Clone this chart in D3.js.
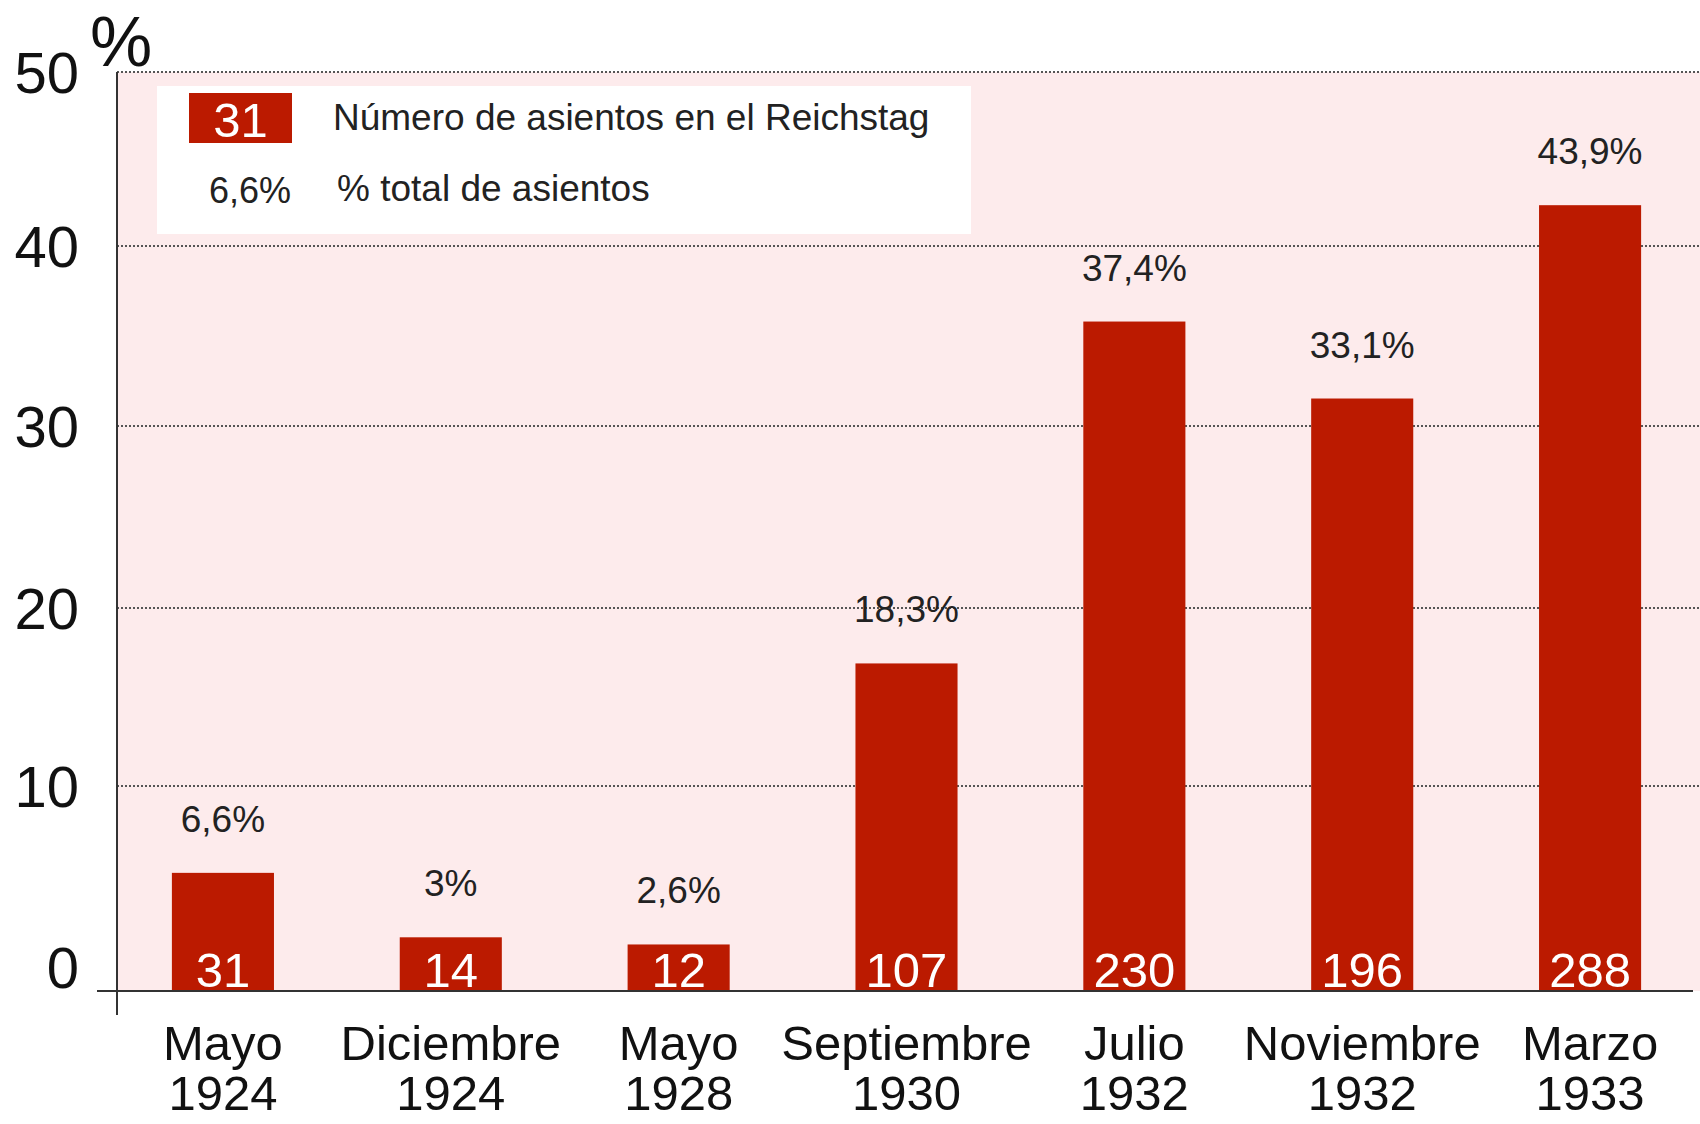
<!DOCTYPE html>
<html>
<head>
<meta charset="utf-8">
<script src="https://cdn.jsdelivr.net/npm/d3@7"></script>
<style>
  body { margin: 0; background: #fff; }
  text { font-family: "Liberation Sans", Arial, sans-serif; }
</style>
</head>
<body>
<div id="chart"></div>
<script>
var months = ["Mayo", "Diciembre", "Mayo", "Septiembre", "Julio", "Noviembre", "Marzo"];
var years = ["1924", "1924", "1928", "1930", "1932", "1932", "1933"];
var seats = [31, 14, 12, 107, 230, 196, 288];
var percent = [6.6, 3, 2.6, 18.3, 37.4, 33.1, 43.9];
var yTicks = [0, 10, 20, 30, 40, 50];

var legendSeats = "Número de asientos en el Reichstag";
var legendPercent = "% total de asientos";

var width = 1700, height = 1124;
var plotLeft = 117, plotRight = 1700, plotTop = 72, baseline = 991;

var keys = months.map(function(m, i) { return m + " " + years[i]; });

var svg = d3.select("#chart").append("svg")
    .attr("width", width)
    .attr("height", height);

var x = d3.scaleBand()
    .domain(keys)
    .range([109, 1704])
    .paddingInner(0.552)
    .paddingOuter(0.276);

// the original axis is not evenly spaced, so the gridlines follow it
var yAxisScale = d3.scaleLinear()
    .domain(yTicks)
    .range([baseline, 786, 608, 426, 246, plotTop]);

// bars are drawn to their own (even) scale, as in the original
var y = d3.scaleLinear()
    .domain([0, 50])
    .range([baseline, 96]);

var es = d3.formatLocale({decimal: ",", thousands: ".", grouping: [3], currency: ["", "€"]});
var fmt = es.format("~g");

// plot background
svg.append("rect")
    .attr("x", plotLeft)
    .attr("y", plotTop)
    .attr("width", plotRight - plotLeft)
    .attr("height", baseline - plotTop)
    .attr("fill", "#fdebec");

// dotted gridlines
svg.selectAll("line.grid")
    .data(yTicks.filter(function(d) { return d > 0; }))
    .enter()
    .append("line")
    .attr("class", "grid")
    .attr("x1", plotLeft)
    .attr("x2", plotRight)
    .attr("y1", function(d) { return yAxisScale(d); })
    .attr("y2", function(d) { return yAxisScale(d); })
    .attr("stroke", "#555")
    .attr("stroke-width", 2)
    .attr("stroke-dasharray", "2,2");

// legend
var legend = svg.append("g");
legend.append("rect")
    .attr("x", 157).attr("y", 86)
    .attr("width", 814).attr("height", 148)
    .attr("fill", "#fff");
legend.append("rect")
    .attr("x", 189).attr("y", 93)
    .attr("width", 103).attr("height", 50)
    .attr("fill", "#bb1a00");
legend.append("text")
    .attr("x", 240.5).attr("y", 137)
    .attr("text-anchor", "middle")
    .attr("font-size", 49)
    .attr("fill", "#fff")
    .text(seats[0]);
legend.append("text")
    .attr("x", 333).attr("y", 130)
    .attr("font-size", 37)
    .attr("fill", "#222")
    .text(legendSeats);
legend.append("text")
    .attr("x", 291).attr("y", 203)
    .attr("text-anchor", "end")
    .attr("font-size", 36)
    .attr("fill", "#222")
    .text(fmt(percent[0]) + "%");
legend.append("text")
    .attr("x", 337).attr("y", 201)
    .attr("font-size", 37)
    .attr("fill", "#222")
    .text(legendPercent);

// bars
var bars = svg.selectAll("g.bar")
    .data(percent)
    .enter()
    .append("g")
    .attr("class", "bar");

bars.append("rect")
    .attr("x", function(d, i) { return x(keys[i]); })
    .attr("y", function(d) { return y(d); })
    .attr("width", x.bandwidth())
    .attr("height", function(d) { return y(0) - y(d); })
    .attr("fill", "#bb1a00");

bars.append("text")
    .attr("x", function(d, i) { return x(keys[i]) + x.bandwidth() / 2; })
    .attr("y", function(d) { return y(d) - 41; })
    .attr("text-anchor", "middle")
    .attr("font-size", 37)
    .attr("fill", "#222")
    .text(function(d) { return fmt(d) + "%"; });

bars.append("text")
    .attr("x", function(d, i) { return x(keys[i]) + x.bandwidth() / 2; })
    .attr("y", y(0) - 4)
    .attr("text-anchor", "middle")
    .attr("font-size", 49)
    .attr("fill", "#fff")
    .text(function(d, i) { return seats[i]; });

// axes
svg.append("line")
    .attr("x1", plotLeft).attr("x2", plotLeft)
    .attr("y1", plotTop).attr("y2", 1015)
    .attr("stroke", "#333").attr("stroke-width", 2);
svg.append("line")
    .attr("x1", 97).attr("x2", 1693)
    .attr("y1", baseline).attr("y2", baseline)
    .attr("stroke", "#333").attr("stroke-width", 2);

svg.selectAll("text.ytick")
    .data(yTicks)
    .enter()
    .append("text")
    .attr("class", "ytick")
    .attr("x", 79)
    .attr("y", function(d) { return yAxisScale(d); })
    .attr("dy", function(d) { return d === 0 ? "-0.05em" : "0.36em"; })
    .attr("text-anchor", "end")
    .attr("font-size", 58)
    .attr("fill", "#111")
    .text(function(d) { return d; });

svg.append("text")
    .attr("x", 90).attr("y", 66)
    .attr("font-size", 70)
    .attr("fill", "#111")
    .text("%");

// category labels, two lines each
var xl = svg.selectAll("text.xlab")
    .data(keys)
    .enter()
    .append("text")
    .attr("class", "xlab")
    .attr("text-anchor", "middle")
    .attr("font-size", 49)
    .attr("fill", "#111");

xl.append("tspan")
    .attr("x", function(d) { return x(d) + x.bandwidth() / 2; })
    .attr("y", 1060)
    .text(function(d, i) { return months[i]; });
xl.append("tspan")
    .attr("x", function(d) { return x(d) + x.bandwidth() / 2; })
    .attr("y", 1110)
    .text(function(d, i) { return years[i]; });
</script>
</body>
</html>
